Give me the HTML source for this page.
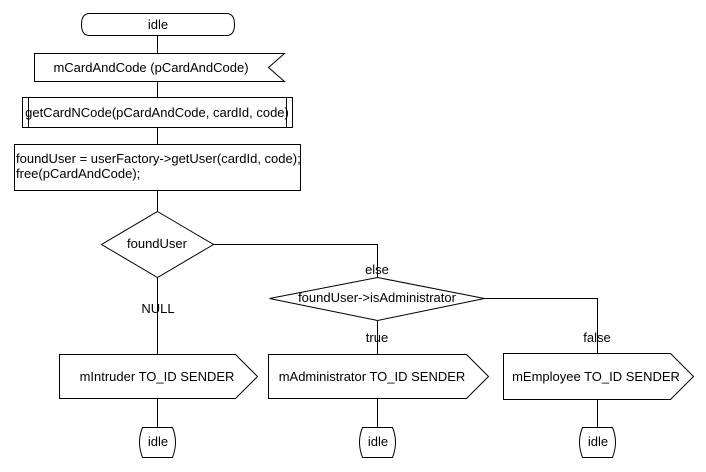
<!DOCTYPE html>
<html><head><meta charset="utf-8"><style>
body{margin:0;background:#fff}
svg{display:block}
text{font-family:"Liberation Sans",sans-serif;font-size:13px;fill:#000}
</style></head><body>
<svg width="706" height="472" viewBox="0 0 706 472" xmlns="http://www.w3.org/2000/svg">
<g fill="none" stroke="#000" stroke-width="1">
<path d="M89.5,13.5 H226.5 Q234.5,13.5 234.5,24.5 Q234.5,35.5 226.5,35.5 H89.5 Q81.5,35.5 81.5,24.5 Q81.5,13.5 89.5,13.5 Z"/>
<line x1="157.5" y1="35.5" x2="157.5" y2="53.5"/>
<path d="M34.5,53.5 H284.5 L268.5,67.5 L284.5,81.5 H34.5 Z"/>
<line x1="157.5" y1="81.5" x2="157.5" y2="97.5"/>
<rect x="22.5" y="97.5" width="270" height="30"/>
<line x1="28.5" y1="97.5" x2="28.5" y2="127.5"/>
<line x1="286.5" y1="97.5" x2="286.5" y2="127.5"/>
<line x1="157.5" y1="127.5" x2="157.5" y2="144.5"/>
<rect x="14.5" y="144.5" width="286" height="46"/>
<line x1="157.5" y1="190.5" x2="157.5" y2="211.5"/>
<path d="M157.5,211.5 L213.5,244.5 L157.5,277.5 L101.5,244.5 Z"/>
<line x1="157.5" y1="277.5" x2="157.5" y2="354.5"/>
<path d="M213.5,244.5 H377.5 V277.5"/>
<path d="M377.5,277.5 L484.5,298.5 L377.5,320.5 L269.5,298.5 Z"/>
<line x1="377.5" y1="320.5" x2="377.5" y2="354.5"/>
<path d="M484.5,298.5 H597.5 V353.5"/>
<path d="M59.5,354.5 H235.5 L257.5,376.5 L235.5,398.5 H59.5 Z"/>
<path d="M268.5,354.5 H466.5 L488.5,376.5 L466.5,398.5 H268.5 Z"/>
<path d="M503.5,353.5 H670.5 L693.5,376.5 L670.5,399.5 H503.5 Z"/>
<line x1="157.5" y1="398.5" x2="157.5" y2="427.5"/>
<line x1="377.5" y1="398.5" x2="377.5" y2="427.5"/>
<line x1="597.5" y1="399.5" x2="597.5" y2="427.5"/>
<path d="M142.5,427.5 H172.5 Q178.5,442 172.5,457.5 H142.5 Q136.5,442 142.5,427.5 Z"/>
<path d="M362.5,427.5 H392.5 Q398.5,442 392.5,457.5 H362.5 Q356.5,442 362.5,427.5 Z"/>
<path d="M582.5,427.5 H612.5 Q618.5,442 612.5,457.5 H582.5 Q576.5,442 582.5,427.5 Z"/>
</g>
<text x="158" y="29" text-anchor="middle">idle</text>
<text x="151" y="72" text-anchor="middle">mCardAndCode (pCardAndCode)</text>
<text x="157" y="117" text-anchor="middle">getCardNCode(pCardAndCode, cardId, code)</text>
<text x="16" y="163">foundUser = userFactory-&gt;getUser(cardId, code);</text>
<text x="16" y="178">free(pCardAndCode);</text>
<text x="157" y="248" text-anchor="middle">foundUser</text>
<text x="377" y="274" text-anchor="middle">else</text>
<text x="377" y="302" text-anchor="middle">foundUser-&gt;isAdministrator</text>
<text x="158" y="313" text-anchor="middle">NULL</text>
<text x="377" y="342" text-anchor="middle">true</text>
<text x="597" y="342" text-anchor="middle">false</text>
<text x="157" y="381" text-anchor="middle">mIntruder TO_ID SENDER</text>
<text x="372" y="381" text-anchor="middle">mAdministrator TO_ID SENDER</text>
<text x="596" y="381" text-anchor="middle">mEmployee TO_ID SENDER</text>
<text x="158" y="446" text-anchor="middle">idle</text>
<text x="378" y="446" text-anchor="middle">idle</text>
<text x="598" y="446" text-anchor="middle">idle</text>
</svg>
</body></html>
